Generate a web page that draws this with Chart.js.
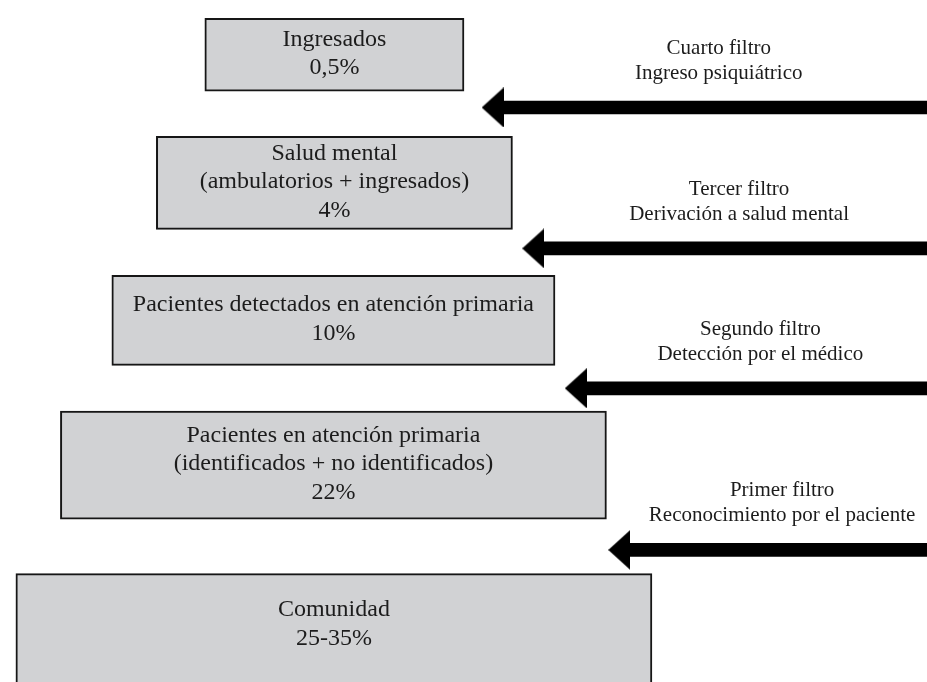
<!DOCTYPE html>
<html>
<head>
<meta charset="utf-8">
<script src="https://cdn.jsdelivr.net/npm/chart.js@4/dist/chart.umd.min.js"></script>
<style>
  html, body { margin: 0; padding: 0; background: #fff; overflow: hidden; }
  canvas { display: block; }
</style>
</head>
<body>
<canvas id="filtros" width="927" height="682"></canvas>
<script>
// niveles de la piramide (de arriba abajo)
const levelNames = ['Ingresados', 'Salud mental', 'Pacientes detectados en atención primaria', 'Pacientes en atención primaria', 'Comunidad'];
const levelNotes = ['', '(ambulatorios + ingresados)', '', '(identificados + no identificados)', ''];
const levelShares = ['0,5%', '4%', '10%', '22%', '25-35%'];

// filtros entre niveles (de arriba abajo)
const filterNames = ['Cuarto filtro', 'Tercer filtro', 'Segundo filtro', 'Primer filtro'];
const filterSteps = ['Ingreso psiquiátrico', 'Derivación a salud mental', 'Detección por el médico', 'Reconocimiento por el paciente'];

// layout of the figure, in scale units (same as the 927x682 picture)
const boxLeft = [202, 153, 108, 56, 11];
const boxRight = [464, 513, 556, 608, 654];
const boxTop = [14, 134, 275, 413, 578];
const boxBottom = [87, 227, 365, 521, 700];
const arrowY = [104, 247, 389, 553];
const arrowTip = [482, 523, 566, 610];
const HEAD_LEN = 22, HEAD_H = 40, SHAFT = 13;

const serif = '"Liberation Serif", "Times New Roman", serif';
const ink = '#1c1c1c';

// arrow head as a point style
const head = document.createElement('canvas');
head.width = HEAD_LEN;
head.height = HEAD_H;
const hctx = head.getContext('2d');
hctx.fillStyle = '#000';
hctx.beginPath();
hctx.moveTo(0, HEAD_H / 2);
hctx.lineTo(HEAD_LEN, 0);
hctx.lineTo(HEAD_LEN, HEAD_H);
hctx.closePath();
hctx.fill();

let datasets = [];

levelNames.forEach((name, i) => {
    datasets.push({
        type: 'bar',
        kind: 'box',
        level: i,
        indexAxis: 'y',
        grouped: false,
        clip: false,
        barThickness: boxBottom[i] - boxTop[i],
        data: [{y: (boxTop[i] + boxBottom[i]) / 2, x: [boxLeft[i], boxRight[i]]}],
        backgroundColor: '#d1d2d4',
        borderColor: '#161616',
        borderWidth: 2,
        borderSkipped: false
    });
});

filterNames.forEach((name, i) => {
    datasets.push({
        type: 'bar',
        kind: 'shaft',
        level: i,
        indexAxis: 'y',
        grouped: false,
        clip: false,
        barThickness: SHAFT,
        data: [{y: arrowY[i], x: [arrowTip[i] + HEAD_LEN - 2, 940]}],
        backgroundColor: '#000',
        borderWidth: 0
    });
});

datasets.push({
    type: 'scatter',
    kind: 'head',
    clip: false,
    data: arrowTip.map((t, i) => ({x: t + HEAD_LEN / 2, y: arrowY[i]})),
    pointStyle: head,
    radius: 3
});

// texts inside the boxes and over the arrows
const textPlugin = {
    id: 'diagramText',
    afterDatasetsDraw(chart) {
        const ctx = chart.ctx;
        const x = chart.scales.x, y = chart.scales.y;
        ctx.save();
        ctx.fillStyle = ink;
        ctx.textAlign = 'center';
        ctx.textBaseline = 'middle';
        chart.data.datasets.forEach((ds, di) => {
            const bar = chart.getDatasetMeta(di).data[0];
            if (!bar) return;
            if (ds.kind === 'box') {
                const i = ds.level;
                const lines = [levelNames[i], levelNotes[i], levelShares[i]].filter(s => s);
                const top = Math.max(bar.y - bar.height / 2, y.getPixelForValue(0));
                const bottom = Math.min(bar.y + bar.height / 2, y.getPixelForValue(682));
                const cx = (bar.x + bar.base) / 2;
                const cy = (top + bottom) / 2 - 1;
                const lh = 28.5;
                ctx.font = '24px ' + serif;
                lines.forEach((s, k) => {
                    ctx.fillText(s, cx, cy + (k - (lines.length - 1) / 2) * lh);
                });
            } else if (ds.kind === 'shaft') {
                const i = ds.level;
                const right = Math.min(bar.x, x.getPixelForValue(927));
                const cx = (bar.base + right) / 2 + 7;
                ctx.font = '21px ' + serif;
                ctx.fillText(filterNames[i], cx, bar.y - 59);
                ctx.fillText(filterSteps[i], cx, bar.y - 34);
            }
        });
        ctx.restore();
    }
};

new Chart(document.getElementById('filtros'), {
    type: 'bar',
    data: {datasets: datasets},
    options: {
        responsive: false,
        animation: false,
        events: [],
        layout: {padding: 0},
        plugins: {
            legend: {display: false},
            tooltip: {enabled: false}
        },
        scales: {
            x: {type: 'linear', min: 0, max: 927, offset: false, grace: 0, display: false},
            y: {type: 'linear', min: 0, max: 682, reverse: true, offset: false, grace: 0, display: false}
        }
    },
    plugins: [textPlugin]
});
</script>
</body>
</html>
